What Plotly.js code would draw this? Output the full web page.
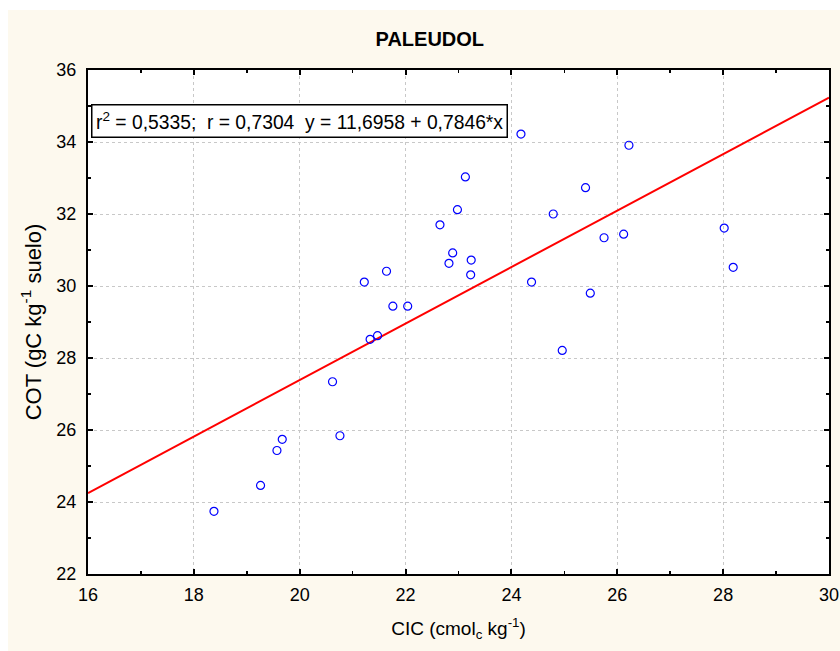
<!DOCTYPE html>
<html>
<head>
<meta charset="utf-8">
<script src="https://cdn.plot.ly/plotly-3.0.1.min.js"></script>
<style>
html,body{margin:0;padding:0;background:#ffffff;}
#chart{position:absolute;left:8px;top:10px;width:832px;height:641px;}
</style>
</head>
<body>
<div id="chart"></div>
<script>
// Data
const cic = [18.38, 19.26, 19.57, 19.67, 20.62, 20.76, 21.22, 21.33, 21.47, 21.64,
             21.76, 22.04, 22.65, 22.82, 22.89, 22.98, 23.13, 23.23, 23.24, 24.18,
             24.38, 24.79, 24.96, 25.40, 25.49, 25.75, 26.12, 26.22, 28.02, 28.19];
const cot = [23.74, 24.46, 25.43, 25.74, 27.34, 25.84, 30.11, 28.52, 28.62, 30.41,
             29.44, 29.44, 31.70, 30.63, 30.92, 32.12, 33.03, 30.31, 30.72, 34.22,
             30.11, 32.00, 28.21, 32.73, 29.80, 31.34, 31.44, 33.91, 31.61, 30.52];
const intercept = 11.6958;
const slope = 0.7846;
const xRange = [16, 30];
const yRange = [22, 36];
const xTicks = [16, 18, 20, 22, 24, 26, 28, 30];
const yTicks = [22, 24, 26, 28, 30, 32, 34, 36];
const statsText = 'r<sup>2</sup> = 0,5335;\u00a0\u00a0r = 0,7304\u00a0\u00a0y = 11,6958 + 0,7846*x';

const lineX = xRange.slice();
const lineY = lineX.map(v => intercept + slope * v);

const font = 'Liberation Sans, Arial, sans-serif';

const traces = [
  {
    x: lineX, y: lineY, type: 'scatter', mode: 'lines',
    line: {color: '#ff0000', width: 2}, hoverinfo: 'skip', showlegend: false
  },
  {
    x: cic, y: cot, type: 'scatter', mode: 'markers',
    marker: {symbol: 'circle-open', size: 8, color: '#0000ff', line: {color: '#0000ff', width: 1.2}},
    showlegend: false
  }
];

const axisCommon = {
  showline: true, linecolor: '#000000', linewidth: 2, mirror: 'ticks',
  ticks: 'inside', ticklen: 5, tickwidth: 2, tickcolor: '#000000',
  showgrid: true, gridcolor: '#c8c8c8', griddash: 'dot', gridwidth: 1,
  zeroline: false, tickfont: {family: font, size: 18, color: '#000000'},
  minor: {ticks: 'inside', ticklen: 3, tickwidth: 1.5, tickcolor: '#000000', dtick: 1, showgrid: false}
};

const layout = {
  width: 832, height: 641,
  paper_bgcolor: '#fdf9ee', plot_bgcolor: '#ffffff',
  margin: {l: 80, r: 11, t: 60, b: 77, pad: 0},
  title: {text: '<b>PALEUDOL</b>', font: {family: 'Liberation Sans Narrow, Liberation Sans, Arial, sans-serif', size: 20, color: '#000000'},
          x: 0.507, xanchor: 'center', y: 0.955, yanchor: 'middle'},
  xaxis: Object.assign({}, axisCommon, {
    range: xRange, tickvals: xTicks, ticklabelstandoff: 3,
    title: {text: 'CIC (cmol<sub>c</sub> kg<sup>-1</sup>)', font: {family: font, size: 19, color: '#000000'}, standoff: 18}
  }),
  yaxis: Object.assign({}, axisCommon, {
    range: yRange, tickvals: yTicks, ticklabelstandoff: 6,
    title: {text: 'COT (gC kg<sup>-1</sup> suelo)', font: {family: font, size: 22, color: '#000000'}, standoff: 9}
  }),
  annotations: [{
    text: statsText, xref: 'paper', yref: 'paper', x: 0.004, y: 0.932,
    xanchor: 'left', yanchor: 'top', showarrow: false, align: 'left',
    font: {family: font, size: 19.3, color: '#000000'},
    bgcolor: '#ffffff', bordercolor: '#000000', borderwidth: 1.5, borderpad: 3.5
  }]
};

Plotly.newPlot('chart', traces, layout, {displayModeBar: false, staticPlot: true});
</script>
</body>
</html>
